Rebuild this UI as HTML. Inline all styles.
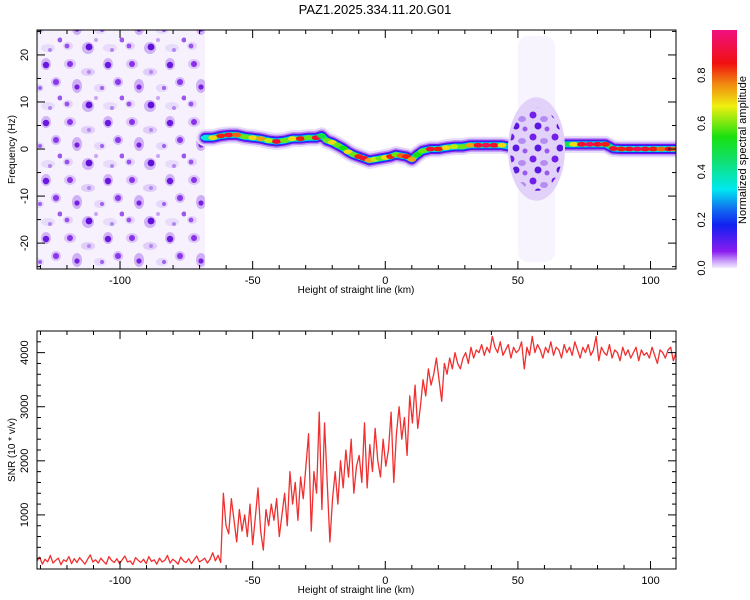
<!DOCTYPE html>
<html><head><meta charset="utf-8"><style>
body{margin:0;background:#fff;}
svg{display:block;font-family:"Liberation Sans",sans-serif;}
</style></head><body>
<svg id="chart" width="750" height="600" viewBox="0 0 750 600">
<defs>
<linearGradient id="cbar" x1="0" y1="1" x2="0" y2="0">
<stop offset="0" stop-color="#f4ecff"/><stop offset="0.03" stop-color="#c89cf8"/><stop offset="0.07" stop-color="#8a1cf0"/>
<stop offset="0.18" stop-color="#1020f0"/><stop offset="0.25" stop-color="#1070f0"/><stop offset="0.33" stop-color="#00e8f0"/>
<stop offset="0.45" stop-color="#10e070"/><stop offset="0.55" stop-color="#18e010"/><stop offset="0.68" stop-color="#f0f010"/>
<stop offset="0.78" stop-color="#f08010"/><stop offset="0.86" stop-color="#f01010"/><stop offset="1" stop-color="#f01080"/>
</linearGradient>
<pattern id="noise" width="62" height="58" patternUnits="userSpaceOnUse">
<rect width="62" height="58" fill="#f7f1fe"/>
<ellipse cx="8" cy="6" rx="6" ry="5" fill="#dcc6f8"/><circle cx="8" cy="6" r="3" fill="#8a30e8"/>
<ellipse cx="26" cy="14" rx="7" ry="4" fill="#e0cdfa"/><circle cx="27" cy="14" r="2" fill="#b488f2"/>
<ellipse cx="46" cy="6" rx="5" ry="6" fill="#d2b4f6"/><circle cx="46" cy="7" r="3.2" fill="#6a18e0"/>
<ellipse cx="15" cy="28" rx="5" ry="7" fill="#cfb0f6"/><circle cx="15" cy="29" r="2.6" fill="#7a20e0"/>
<ellipse cx="38" cy="30" rx="6" ry="4" fill="#e6d8fb"/><circle cx="40" cy="30" r="2" fill="#a060ee"/>
<ellipse cx="56" cy="24" rx="5" ry="5" fill="#d6bcf8"/><circle cx="56" cy="24" r="3" fill="#8a36ea"/>
<ellipse cx="6" cy="46" rx="5" ry="4" fill="#e4d4fa"/><circle cx="5" cy="46" r="2.4" fill="#9a50ec"/>
<ellipse cx="26" cy="48" rx="6" ry="6" fill="#d0b2f6"/><circle cx="27" cy="47" r="3.4" fill="#6010d8"/>
<ellipse cx="48" cy="48" rx="7" ry="4" fill="#e8dcfb"/><circle cx="50" cy="50" r="2" fill="#b088f0"/>
<circle cx="34" cy="40" r="2" fill="#c8a4f6"/><circle cx="60" cy="40" r="2.5" fill="#9c58ec"/>
</pattern>
<pattern id="noise2" width="22" height="22" patternUnits="userSpaceOnUse">
<circle cx="5" cy="5" r="3.5" fill="#7020e8"/><ellipse cx="16" cy="9" rx="4" ry="3" fill="#b48cf2"/>
<circle cx="10" cy="16" r="3.5" fill="#5a18e0"/><circle cx="19" cy="19" r="2.5" fill="#9a58ec"/>
</pattern>
</defs>
<text x="375" y="14" text-anchor="middle" font-size="13">PAZ1.2025.334.11.20.G01</text>
<g id="topPanel"></g>
<g id="botPanel"></g>
<g id="cb"></g>
</svg>
<script>
const ridgeKm=[-68,-65,-62,-59,-56,-53,-50,-47,-44,-41,-38,-35,-32,-29,-26,-24,-22,-20,-18,-16,-14,-12,-10,-8,-6,-4,-2,0,2,4,6,8,10,12,14,17,20,23,26,29,32,35,38,41,44,47];
const ridgeHz=[2.4,2.4,2.8,3,3,2.6,2.4,2.2,1.8,1.6,1.8,2.2,2.2,2.4,2.4,2.8,1.8,1.4,0.8,0.2,-0.6,-1.2,-1.6,-2,-2.4,-2.2,-2,-1.8,-1.6,-1.2,-1.4,-1.6,-2.2,-1.2,-0.4,0,0,0.3,0.5,0.5,0.8,0.8,0.8,0.8,0.8,0.5];
const ridgeAmp=[0.35,0.7,0.85,0.9,0.8,0.6,0.7,0.75,0.65,0.9,0.6,0.7,0.85,0.6,0.9,0.5,0.6,0.7,0.6,0.55,0.7,0.6,0.85,0.9,0.75,0.65,0.6,0.7,0.85,0.6,0.8,0.85,0.75,0.55,0.6,0.9,0.85,0.7,0.65,0.6,0.75,0.9,0.95,0.9,0.7,0.3];
const ridge2Km=[68,71,74,77,80,83,86,89,92,95,98,101,104,107,109];
const ridge2Hz=[1,1,1,1,1,1,0.1,0,0,0,0,0,0,0,0];
const ridge2Amp=[0.5,0.7,0.9,0.95,0.9,0.85,0.9,0.85,0.9,0.95,0.9,0.85,0.8,0.9,0.8];
const snrVals=[150,220,90,180,130,250,110,160,200,80,
170,140,230,100,190,120,210,150,90,180,
260,130,170,110,200,140,90,230,160,120,
190,100,170,240,130,150,80,210,160,120,
180,100,230,140,170,90,200,130,160,250,
110,180,140,90,220,150,120,190,100,170,
240,130,160,200,110,180,300,150,250,120,
1400,800,650,1300,900,500,1100,700,1000,600,
1200,450,950,1500,700,350,1100,800,1200,900,
1300,600,
1000,1400,800,1800,1200,1600,900,1700,1300,1900,
2500,700,1800,1400,2900,1100,2700,1600,500,1300,
1800,1200,2000,1500,2200,1700,2400,1400,1900,2100,
1600,2700,1500,2300,1800,2600,2000,1700,2400,1900,
2200,2900,1600,2500,3000,2400,2800,2100,3200,2700,
3400,2600,3000,3500,3200,3700,3400,3600,3900,3500,
3100,3800,3600,3900,3700,4000,3800,3700,3900,4000,
3800,4100,3900,4050,4000,4150,3950,4100,4000,4300,
4100,4000,4200,3950,4050,4150,3900,4100,4000,4050,
4200,3700,4100,3950,4300,4000,4150,4050,3900,4100,
4000,4200,3950,4100,4050,3900,4150,4000,4100,3950,
4200,4050,3900,4100,4000,4150,3950,4050,4300,3850,
4100,4000,3950,4150,3900,4050,4000,3850,4100,3950,
4050,3900,4000,4100,3850,4050,3950,4000,3900,4100,
3950,3800,4050,4000,3900,4050,4100,3850,4000];
const xTicks=[-100,-50,0,50,100];
const fTicks=[-20,-10,0,10,20];
const sTicks=[1000,2000,3000,4000];
const cTicks=[0,0.2,0.4,0.6,0.8];

const NS='http://www.w3.org/2000/svg';
function mk(p,t,a){const e=document.createElementNS(NS,t);for(const k in a)e.setAttribute(k,a[k]);p.appendChild(e);return e;}
const XMIN=-131.3,XMAX=109.6,L=37,R=676;
const X=km=>L+(km-XMIN)/(XMAX-XMIN)*(R-L);
const T0=30,T1=269,FMAX=25.3,FMIN=-25.5;
const YF=h=>T0+(FMAX-h)/(FMAX-FMIN)*(T1-T0);
const B0=331,B1=569,SMAX=4400;
const YS=v=>B0+(SMAX-v)/SMAX*(B1-B0);
function cmap(a){const s=[[0,[244,236,255]],[0.07,[138,28,240]],[0.18,[16,32,240]],[0.33,[0,232,240]],[0.55,[24,224,16]],[0.68,[240,240,16]],[0.78,[240,128,16]],[0.86,[240,16,16]],[1,[240,16,128]]];
for(let i=1;i<s.length;i++)if(a<=s[i][0]){const t=(a-s[i-1][0])/(s[i][0]-s[i-1][0]);const c=s[i-1][1].map((v,j)=>Math.round(v+t*(s[i][1][j]-v)));return `rgb(${c})`;}return 'rgb(240,16,128)';}

// ---------- top panel
const topG=document.getElementById('topPanel');
const clip=mk(document.querySelector('defs'),'clipPath',{id:'tc'});mk(clip,'rect',{x:L,y:T0,width:R-L,height:T1-T0});
const tg=mk(topG,'g',{'clip-path':'url(#tc)'});
let n1=mk(tg,'rect',{x:L,y:T0,width:X(-68)-L,height:T1-T0,fill:'url(#noise)'});


let n3=mk(tg,'rect',{x:X(50),y:YF(24),width:X(64)-X(50),height:YF(-24)-YF(24),fill:'#f0e6fd',opacity:0.45,rx:10});


function ridge(kms,hzs,amps,name){
 const pts=kms.map((k,i)=>X(k)+','+YF(hzs[i])).join(' ');
 [['#e8dcfb',17],['#b890f2',13],['#7a10f0',10],['#1030f0',8],['#00d8e8',6],['#30e040',4]].forEach(([c,w])=>{
  const p=mk(tg,'polyline',{points:pts,fill:'none',stroke:c,'stroke-width':w,'stroke-linejoin':'round','stroke-linecap':'round'});
  
  });
 kms.forEach((k,i)=>{const e=mk(tg,'ellipse',{cx:X(k),cy:YF(hzs[i]),rx:4.5,ry:2.4,fill:cmap(amps[i])});
  
  });
}
ridge(ridgeKm,ridgeHz,ridgeAmp,'ridge');
ridge(ridge2Km,ridge2Hz,ridge2Amp,'ridge-right');
const cx2=(X(47)+X(67))/2, rx2=(X(67)-X(47))/2+2, cy2=YF(0), ry2=(YF(-11)-YF(11))/2;
let n2a=mk(tg,'ellipse',{cx:cx2,cy:cy2,rx:rx2,ry:ry2,fill:'#e2d2fa'});


let n2=mk(tg,'ellipse',{cx:cx2,cy:cy2,rx:rx2-2,ry:ry2-10,fill:'url(#noise2)'});



function frame(y0,y1,ticksY,fy,minorY,labelY,parentId){
 const g=mk(document.getElementById(parentId),'g',{});
 const f=mk(g,'rect',{x:L,y:y0,width:R-L,height:y1-y0,fill:'none',stroke:'#000','stroke-width':1});
 
 
 for(let k=-130;k<=100;k+=10){const x=X(k);const maj=k%50===0;const l=maj?8:4;
  mk(g,'line',{x1:x,y1:y1,x2:x,y2:y1-l,stroke:'#000'});mk(g,'line',{x1:x,y1:y0,x2:x,y2:y0+l,stroke:'#000'});}
 xTicks.forEach(k=>{const t=mk(g,'text',{x:X(k),y:y1+15,'text-anchor':'middle','font-size':11});t.textContent=k;
  
  });
 const xt=mk(g,'text',{x:356,y:y1+24,'text-anchor':'middle','font-size':10});xt.textContent='Height of straight line (km)';
 
 
 minorY.forEach(v=>{const y=fy(v);const maj=ticksY.includes(v);const l=maj?8:4;
  mk(g,'line',{x1:L,y1:y,x2:L+l,y2:y,stroke:'#000'});mk(g,'line',{x1:R,y1:y,x2:R-l,y2:y,stroke:'#000'});});
 ticksY.forEach(v=>{const y=fy(v);const t=mk(g,'text',{x:0,y:0,'text-anchor':'middle','font-size':11,transform:`translate(28,${y}) rotate(-90)`});t.textContent=v;
  
  });
 const yt=mk(g,'text',{x:0,y:0,'text-anchor':'middle','font-size':10,transform:`translate(15,${(y0+y1)/2}) rotate(-90)`});yt.textContent=labelY;
 
 
}
const fMinor=[];for(let v=-25;v<=25;v+=5)fMinor.push(v);
frame(T0,T1,fTicks,YF,fMinor,'Frequency (Hz)','topPanel');

// ---------- bottom panel
const botG=document.getElementById('botPanel');
const pts=snrVals.map((v,i)=>X(XMIN+i*(XMAX-XMIN)/(snrVals.length-1))+','+YS(v)).join(' ');
const ln=mk(botG,'polyline',{points:pts,fill:'none',stroke:'#f03030','stroke-width':1.3,'stroke-linejoin':'round'});


const sMinor=[];for(let v=200;v<=4400;v+=200)sMinor.push(v);
frame(B0,B1,sTicks,YS,sMinor,'SNR (10 * v/v)','botPanel');

// ---------- colorbar
const cb=document.getElementById('cb');
const cr=mk(cb,'rect',{x:712,y:30,width:25,height:238,fill:'url(#cbar)'});


const CY=a=>268-a*(268-27);
cTicks.forEach(v=>{const t=mk(cb,'text',{x:0,y:0,'text-anchor':'middle','font-size':11,transform:`translate(705,${CY(v)}) rotate(-90)`});t.textContent=v.toFixed(1);
 
 });
const ct=mk(cb,'text',{x:0,y:0,'text-anchor':'middle','font-size':11,transform:'translate(746,150) rotate(-90)'});ct.textContent='Normalized spectral amplitude';


</script>
</body></html>
